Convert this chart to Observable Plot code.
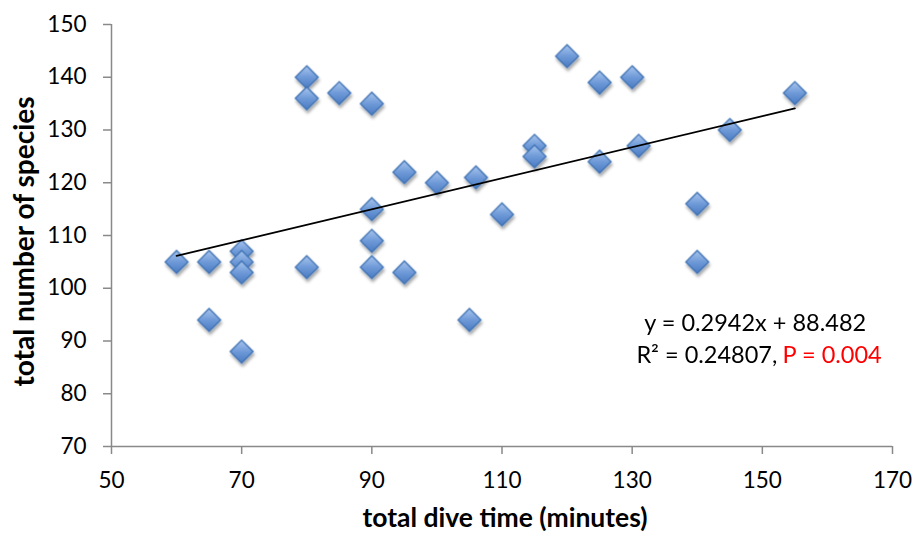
<!DOCTYPE html>
<html>
<head>
<meta charset="utf-8">
<script src="https://cdn.jsdelivr.net/npm/d3@7"></script>
<script src="https://cdn.jsdelivr.net/npm/@observablehq/plot@0.6"></script>
<style>
  html, body { margin: 0; padding: 0; background: #fff; }
  #chart svg { display: block; font-family: Lato, "Open Sans", sans-serif; }
</style>
</head>
<body>
<div id="chart"></div>
<script>
// ---- data ----
const diveTime = [60, 65, 65, 70, 70, 70, 70, 80, 80, 80, 85, 90, 90, 90, 90, 95, 95, 100, 105, 106, 110, 115, 115, 120, 125, 125, 130, 131, 140, 140, 145, 155];
const species  = [105, 105, 94, 107, 105, 103, 88, 140, 136, 104, 137, 135, 115, 109, 104, 122, 103, 120, 94, 121, 114, 127, 125, 144, 139, 124, 140, 127, 116, 105, 130, 137];
const xTicks = [50, 70, 90, 110, 130, 150, 170];
const yTicks = [70, 80, 90, 100, 110, 120, 130, 140, 150];
const slope = 0.2942;
const intercept = 88.482;
const trendRange = [60, 155];
const eqLine1 = "y = 0.2942x + 88.482";
const eqLine2a = "R² = 0.24807,";
const eqLine2b = "P = 0.004";
const xTitle = "total dive time (minutes)";
const yTitle = "total number of species";

const points = diveTime.map((d, i) => ({x: d, y: species[i]}));
const trend = trendRange.map(x => ({x, y: slope * x + intercept}));

const axisColor = "#898989";

const plot = Plot.plot({
  width: 914,
  height: 535,
  marginLeft: 111,
  marginRight: 22,
  marginTop: 24,
  marginBottom: 89,
  x: {domain: [50, 170]},
  y: {domain: [70, 150]},
  style: {fontFamily: "Lato, 'Open Sans', sans-serif", background: "#fff"},
  marks: [
    Plot.ruleY([70], {stroke: axisColor, strokeWidth: 1.5}),
    Plot.ruleX([50], {stroke: axisColor, strokeWidth: 1.5}),
    Plot.axisX({ticks: xTicks, tickSize: 8, tickPadding: 18, stroke: axisColor, strokeWidth: 1.5,
      fontSize: 22.5, fill: "#000", label: null}),
    Plot.axisY({ticks: yTicks, tickSize: 8, tickPadding: 17, stroke: axisColor, strokeWidth: 1.5,
      fontSize: 22.5, fill: "#000", label: null}),
    Plot.dot(points, {x: "x", y: "y", symbol: "diamond2", r: 10.3,
      fill: "url(#diamondGrad)", stroke: "#3f72b3", strokeWidth: 1.3}),
    Plot.line(trend, {x: "x", y: "y", stroke: "#000", strokeWidth: 1.8}),
    Plot.text([eqLine1], {x: 148.9, y: 93.4, text: d => d, fontSize: 23.5, fill: "#000", textAnchor: "middle", lineAnchor: "middle"}),
    Plot.text([eqLine2a], {x: 152.3, y: 87.3, text: d => d, fontSize: 23.5, fill: "#000", textAnchor: "end", lineAnchor: "middle"}),
    Plot.text([eqLine2b], {x: 153.1, y: 87.3, text: d => d, fontSize: 23.5, fill: "#ff0000", textAnchor: "start", lineAnchor: "middle"}),
    Plot.text([xTitle], {frameAnchor: "bottom", dy: 72, dx: 3, text: d => d, fontSize: 26.5, fontWeight: "bold", fill: "#000", textAnchor: "middle", lineAnchor: "middle"}),
    Plot.text([yTitle], {frameAnchor: "left", dx: -86, dy: 6, rotate: -90, text: d => d, fontSize: 28, fontWeight: "bold", fill: "#000", textAnchor: "middle", lineAnchor: "middle"})
  ]
});

// gradient and shadow definitions for the diamond markers
const svg = d3.select(plot);
const defs = svg.insert("defs", ":first-child");
const grad = defs.append("linearGradient").attr("id", "diamondGrad")
  .attr("x1", 0).attr("y1", 0).attr("x2", 0).attr("y2", 1);
grad.append("stop").attr("offset", "0%").attr("stop-color", "#a9c6ee");
grad.append("stop").attr("offset", "50%").attr("stop-color", "#6f9ad8");
grad.append("stop").attr("offset", "100%").attr("stop-color", "#4a7bc2");
const filt = defs.append("filter").attr("id", "dropShadow")
  .attr("x", "-50%").attr("y", "-50%").attr("width", "200%").attr("height", "200%");
filt.append("feDropShadow").attr("dx", 1).attr("dy", 3).attr("stdDeviation", 1.6)
  .attr("flood-color", "#000").attr("flood-opacity", 0.35);
svg.selectAll("g[aria-label=dot] path").attr("fill", "url(#diamondGrad)");
svg.select("g[aria-label=dot]").attr("filter", "url(#dropShadow)");

document.getElementById("chart").appendChild(plot);
</script>
</body>
</html>
